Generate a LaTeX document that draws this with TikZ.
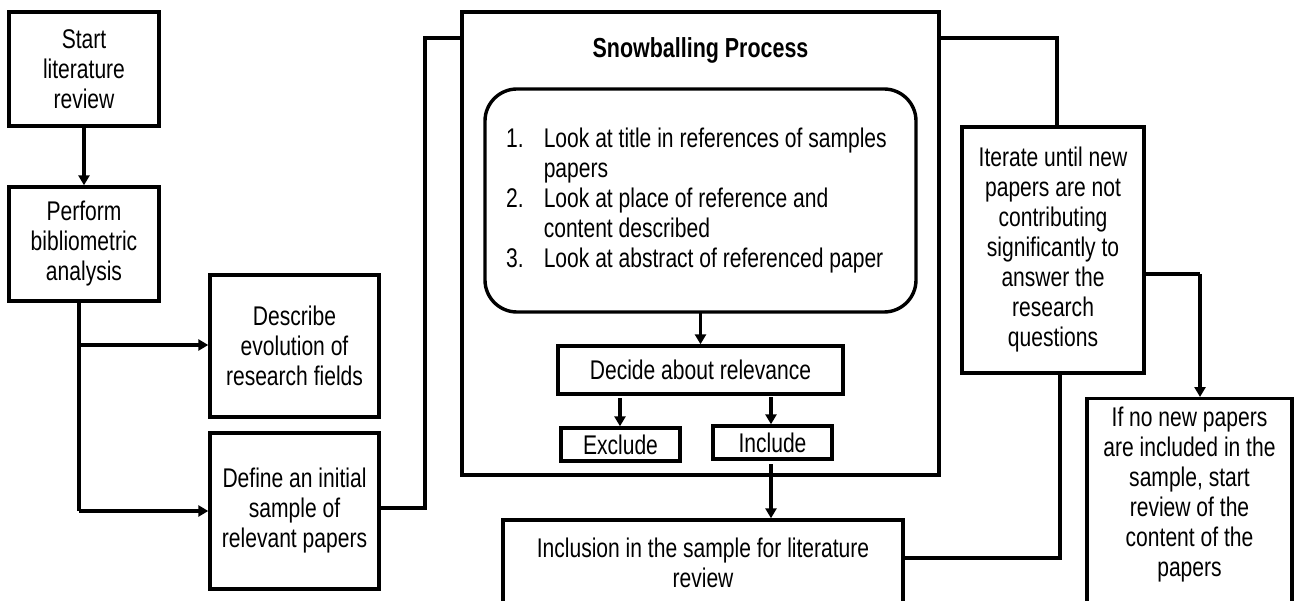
\documentclass[tikz,border=0pt]{standalone}
\usepackage{fontspec}
\setmainfont{Liberation Sans}[FakeStretch=0.78]
\usetikzlibrary{arrows.meta}
\begin{document}
\begin{tikzpicture}[x=1pt,y=-1pt,
  txt/.style={font=\fontsize{27}{30}\selectfont, align=center, inner sep=0pt},
  box/.style={txt, draw, line width=3.4pt},
  conn/.style={line width=3.2pt},
  arr/.style={conn, -{Triangle[length=10pt,width=11pt]}},
]
\useasboundingbox (0,0) rectangle (1295,601);
\clip (0,0) rectangle (1295,601);
% left column
\node[box, minimum width=150, minimum height=114] (start) at (84,69) {Start\\literature\\review};
\node[box, minimum width=150, minimum height=114] (perform) at (84,244) {Perform\\bibliometric\\analysis};
\node[box, minimum width=169, minimum height=142] (describe) at (294.5,346) {Describe\\evolution of\\research fields};
\node[box, minimum width=169, minimum height=156] (define) at (294.5,511) {Define an initial\\sample of\\relevant papers};
% snowballing
\node[box, minimum width=477, minimum height=463] (outer) at (700.5,243.5) {};
\node[txt, font=\fontsize{27.5}{30}\selectfont\bfseries] (title) at (700.5,50) {Snowballing Process};
\node[box, rounded corners=32, minimum width=431, minimum height=223] (rounded) at (700.5,200.5) {};
\node[txt, anchor=west, align=left] (list) at (506,201.5) {%
  \begin{tabular}{@{}l@{\hspace{20pt}}l@{}}
  1. & Look at title in references of samples\\
     & papers\\
  2. & Look at place of reference and\\
     & content described\\
  3. & Look at abstract of referenced paper
  \end{tabular}};
\node[box, minimum width=285, minimum height=48] (decide) at (700.5,370) {Decide about relevance};
\node[box, minimum width=119, minimum height=33] (exclude) at (620.5,444.5) {Exclude};
\node[box, minimum width=119, minimum height=33] (include) at (772.5,442.5) {Include};
\node[box, minimum width=400, minimum height=94] (inclusion) at (703,567) {};
\node[txt] (inclusiontext) at (703,563) {Inclusion in the sample for literature\\review};
% right
\node[box, minimum width=182, minimum height=246] (iterate) at (1053,250) {Iterate until new\\papers are not\\contributing\\significantly to\\answer the\\research\\questions};
\node[box, minimum width=205, minimum height=216, anchor=north] (final) at (1189.5,397) {};
\node[txt] (finaltext) at (1189.5,495) {If no new papers\\are included in the\\sample, start\\review of the\\content of the\\papers};
% connectors
\draw[arr] (start.south) -- (perform.north);
\coordinate (b0) at (79,301);
\coordinate (b1) at (79,345);
\coordinate (b2) at (79,511);
\draw[conn] (b0) -- (b2);
\draw[arr] (b1) -- (describe.west |- b1);
\draw[arr] (b2) -- (define.west |- b2);
\coordinate (d1) at (425,508);
\coordinate (d2) at (425,38);
\draw[conn] (define.east |- d1) -- (d1) -- (d2) -- (outer.west |- d2);
\coordinate (o1) at (1057,38);
\draw[conn] (outer.east |- o1) -- (o1) -- (iterate.north -| o1);
\coordinate (i1) at (1200,274);
\draw[conn] (iterate.east |- i1) -- (i1);
\draw[arr] (i1) -- (final.north -| i1);
\coordinate (c1) at (1060,558);
\draw[conn] (inclusion.east |- c1) -- (c1) -- (iterate.south -| c1);
\draw[arr] ([yshift=2]rounded.south) -- (decide.north);
\coordinate (e0) at (620,398);
\draw[arr] (e0) -- (exclude.north -| e0);
\coordinate (n0) at (771,397);
\draw[arr] (n0) -- (include.north -| n0);
\coordinate (n1) at (771,464);
\draw[arr] (n1) -- (inclusion.north -| n1);
\end{tikzpicture}
\end{document}
